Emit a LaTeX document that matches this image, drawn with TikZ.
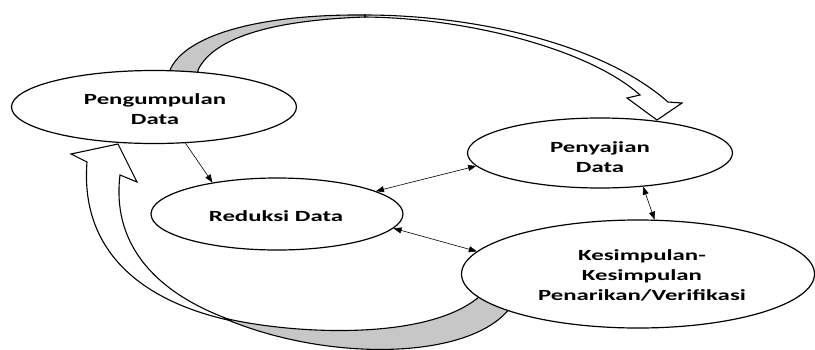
\documentclass[tikz,border=0pt]{standalone}
\usepackage{fontspec}
\setmainfont{Carlito}
\usepackage{graphicx}
\usetikzlibrary{shapes.geometric,arrows.meta}
\newcommand\widetxt[1]{\scalebox{1.6}[1]{\begin{tabular}{@{}c@{}}#1\end{tabular}}}
\begin{document}
\begin{tikzpicture}[x=1pt,y=-1pt,
  oval/.style={ellipse,draw=black,line width=1.2pt,fill=white,inner sep=0pt},
  lbl/.style={inner sep=0pt,font=\fontsize{15.5}{20}\selectfont\bfseries},
  conn/.style={line width=0.6pt,-{Triangle[length=8pt,width=6pt]}},
  biconn/.style={line width=0.6pt,{Triangle[length=8pt,width=6pt]}-{Triangle[length=8pt,width=6pt]}},
  band/.style={draw=black,line width=1.1pt,line join=miter},
  backside/.style={band,fill=black!22},
  frontside/.style={band,fill=white},
]
\useasboundingbox (0,0) rectangle (815,349);
% top curved arrow (Pengumpulan -> Penyajian)
\draw[backside] (170,80) -- (170,70) .. controls (185,35) and (260,14) .. (365,15)
  -- (365,17) .. controls (280,20) and (215,35) .. (198,70) -- (198,80) -- cycle;
\draw[frontside] (365,15) .. controls (470,15) and (600,42) .. (668,102) -- (682,103)
  -- (657,120) -- (627,98) -- (640,95) .. controls (590,50) and (470,18) .. (365,17) -- cycle;
% bottom curved arrow (Kesimpulan -> Pengumpulan)
\draw[backside] (228,319) .. controls (300,335) and (430,340) .. (480,296) -- (486,285)
  -- (515,296) -- (510,308) .. controls (470,360) and (330,362) .. (228,320) -- cycle;
\draw[frontside] (228,320) .. controls (140,300) and (80,250) .. (87,162) -- (71,154)
  -- (118,144) -- (137,182) -- (120,175) .. controls (112,240) and (150,290) .. (228,319) -- cycle;
% ellipses
\node[oval,minimum width=285pt,minimum height=73pt] (P) at (154,107) {};
\node[oval,minimum width=265pt,minimum height=70pt] (S) at (600,153) {};
\node[oval,minimum width=252pt,minimum height=72pt] (R) at (277,214) {};
\node[oval,minimum width=353pt,minimum height=108pt] (K) at (638,274) {};
% labels
\node[lbl] (Pt) at (155,110) {\widetxt{Pengumpulan\\Data}};
\node[lbl] (St) at (600,158) {\widetxt{Penyajian\\Data}};
\node[lbl] (Rt) at (276,217) {\widetxt{Reduksi Data}};
\node[lbl] (Kt) at (642,276) {\widetxt{Kesimpulan-\\Kesimpulan\\Penarikan/Verifikasi}};
% connectors
\draw[conn] (P.-49) -- (R.154);
\draw[biconn] (R.13) -- (S.186);
\draw[biconn] (R.-7) -- (K.172);
\draw[biconn] (S.-38) -- (K.73);
\end{tikzpicture}
\end{document}
